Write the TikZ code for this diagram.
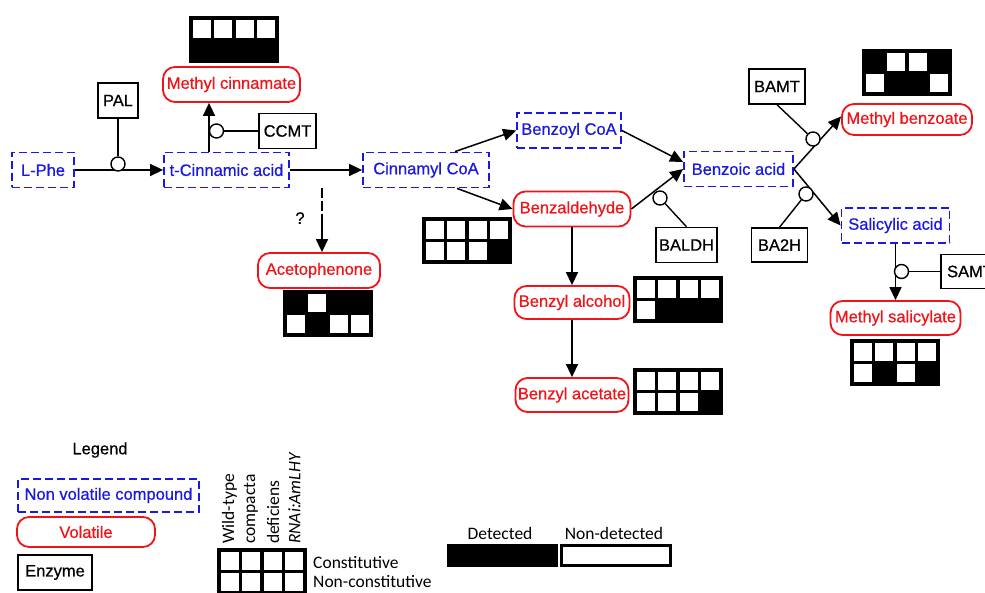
\documentclass[tikz,border=0pt]{standalone}
\usepackage{fontspec}
\setmainfont{Liberation Sans}[FakeBold=0.6]
\newfontfamily\calib{Carlito}
\usetikzlibrary{arrows.meta,calc}
\definecolor{nvblue}{RGB}{25,25,225}
\definecolor{volred}{RGB}{240,20,25}
\newcommand\cellgrid[3]{%
  \fill[black] (#1,#2) rectangle ++(90,47);
  \foreach \v [count=\i from 0] in {#3}{%
    \pgfmathtruncatemacro\gcolm{mod(\i,4)}%
    \pgfmathtruncatemacro\growm{floor(\i/4)}%
    \ifnum\v=1 \fill[white] ({#1+3.6+\gcolm*21.6},{#2+3.6+\growm*21.7}) rectangle ++(18,18);\fi
  }}
\begin{document}
\begin{tikzpicture}[x=1pt,y=-1pt,
 every node/.style={font=\fontsize{16.5}{18}\selectfont, inner sep=0pt},
 nv/.style={draw=nvblue, text=nvblue, line width=1.8pt, dash pattern=on 8pt off 4pt, minimum height=35pt},
 vol/.style={draw=volred, text=volred, line width=1.8pt, rounded corners=12pt, minimum height=35pt},
 enz/.style={draw=black, line width=1.4pt, minimum height=35pt},
 cat/.style={circle, draw=black, fill=white, line width=1.4pt, minimum size=14pt},
 rxn/.style={line width=1.5pt, -{Triangle[length=13pt,width=12pt]}},
 lnk/.style={line width=1.4pt},
 leg/.style={font=\calib\fontsize{17.5}{19}\selectfont}
]
\useasboundingbox (0,0) rectangle (985,593);
\clip (0,0) rectangle (985,593);
\fill[white] (0,0) rectangle (985,593);

% compounds and enzymes
\node[nv, minimum width=62pt] (lphe) at (43,170) {L-Phe};
\node[nv, minimum width=125pt] (tcin) at (226.5,170) {t-Cinnamic acid};
\node[vol, minimum width=137pt] (mcin) at (231.5,84.5) {Methyl cinnamate};
\node[enz, minimum width=40pt] (pal) at (118,100.5) {PAL};
\node[enz, minimum width=57pt] (ccmt) at (287.5,131) {CCMT};
\node[nv, minimum width=126pt] (cinco) at (426,170) {Cinnamyl CoA};
\node[nv, minimum width=104pt] (bzco) at (569,130.5) {Benzoyl CoA};
\node[nv, minimum width=109pt] (bzac) at (738.5,169) {Benzoic acid};
\node[vol, minimum width=117pt] (bzal) at (572,209) {Benzaldehyde};
\node[enz, minimum width=61pt] (baldh) at (686.5,245) {BALDH};
\node[vol, minimum width=115pt, minimum height=33pt] (bzalc) at (572,302.5) {Benzyl alcohol};
\node[vol, minimum width=113pt, minimum height=34pt] (bzact) at (572,395) {Benzyl acetate};
\node[vol, minimum width=122pt] (aceto) at (319,270.5) {Acetophenone};
\node[enz, minimum width=56pt] (bamt) at (777,86.5) {BAMT};
\node[vol, minimum width=130pt, minimum height=31pt] (mbz) at (907,119.5) {Methyl benzoate};
\node[nv, minimum width=108pt] (salac) at (895.5,225.5) {Salicylic acid};
\node[enz, minimum width=56pt, minimum height=34pt] (ba2h) at (779.5,245) {BA2H};
\node[enz, minimum width=58pt, minimum height=34pt] (samt) at (970,271.5) {SAMT};
\node[vol, minimum width=130pt, minimum height=34pt] (mesal) at (895.5,318) {Methyl salicylate};
\node (qm) at (300,218) {?};

% reactions
\coordinate (xv) at (209,0);
\coordinate (qs) at (322,188);
\draw[rxn] (lphe) -- (tcin);
\draw[rxn] (tcin.north -| xv) -- (mcin.south -| xv);
\draw[rxn] (tcin) -- (cinco);
\draw[rxn, dash pattern=on 10pt off 3pt on 10pt off 3pt on 80pt] (qs) -- (aceto.north -| qs);
\draw[rxn] ($(cinco.north)+(29,0)$) -- (bzco.west);
\draw[rxn] ($(cinco.south)+(31,0)$) -- (bzal.west);
\draw[rxn] (bzco.east) -- ($(bzac.west)+(0,-7)$);
\draw[rxn] (bzal.east) -- (bzac.west);
\draw[rxn] (bzal) -- (bzalc);
\draw[rxn] (bzalc) -- (bzact);
\draw[rxn] (bzac.east) -- ($(mbz.west)+(0,-3)$);
\draw[rxn] (bzac.east) -- (salac.west);
\draw[rxn] (salac) -- (mesal);

% catalysis circles and enzyme links
\node[cat] (cpal) at (118,164) {};
\node[cat] (cccmt) at (216.5,131) {};
\node[cat] (cbaldh) at (660,198) {};
\node[cat] (cbamt) at (813,139) {};
\node[cat] (cba2h) at (806,194) {};
\node[cat] (csamt) at (901.5,271.5) {};
\draw[lnk] (pal) -- (cpal);
\draw[lnk] (ccmt) -- (cccmt);
\draw[lnk] (cbaldh) -- (baldh.north);
\draw[lnk] (bamt.south) -- (cbamt);
\draw[lnk] (cba2h) -- (ba2h.north);
\draw[lnk] (samt) -- (csamt);

% detection grids
\cellgrid{189}{16}{1,1,1,1,0,0,0,0}
\cellgrid{422}{217}{1,1,1,1,1,1,1,0}
\cellgrid{283}{290}{0,1,0,0,1,0,1,1}
\cellgrid{633}{276}{1,1,1,1,1,0,0,0}
\cellgrid{633}{368}{1,1,1,1,1,1,1,0}
\cellgrid{862}{49}{0,1,1,0,1,0,0,1}
\cellgrid{850}{339}{1,1,1,1,1,0,1,0}

% legend
\node (legt) at (100,450) {Legend};
\node[nv, minimum width=181pt, minimum height=33pt] (lnv) at (108.5,495.5) {Non volatile compound};
\node[vol, minimum width=138pt, minimum height=30pt] (lvol) at (86,532) {Volatile};
\node[enz, minimum width=74pt] (lenz) at (55,572.5) {Enzyme};
\cellgrid{217}{548}{1,1,1,1,1,1,1,1}
\node[leg, rotate=90, anchor=west] (lwt) at (229.5,544) {Wild-type};
\node[leg, rotate=90, anchor=west] (lco) at (251,544) {compacta};
\node[leg, rotate=90, anchor=west] (lde) at (273,544) {deficiens};
\node[leg, rotate=90, anchor=west] (lrn) at (294.5,544) {\itshape RNAi:AmLHY};
\node[leg, anchor=west] (lcons) at (313,563) {Constitutive};
\node[leg, anchor=west] (lncons) at (313,582) {Non-constitutive};
\node[fill=black, minimum width=111pt, minimum height=23pt] (det) at (502.5,555.5) {};
\node[draw=black, line width=3pt, minimum width=109pt, minimum height=20pt] (ndet) at (616,555.5) {};
\node[leg] (tdet) at (500,533) {Detected};
\node[leg] (tndet) at (614,533) {Non-detected};
\end{tikzpicture}
\end{document}
